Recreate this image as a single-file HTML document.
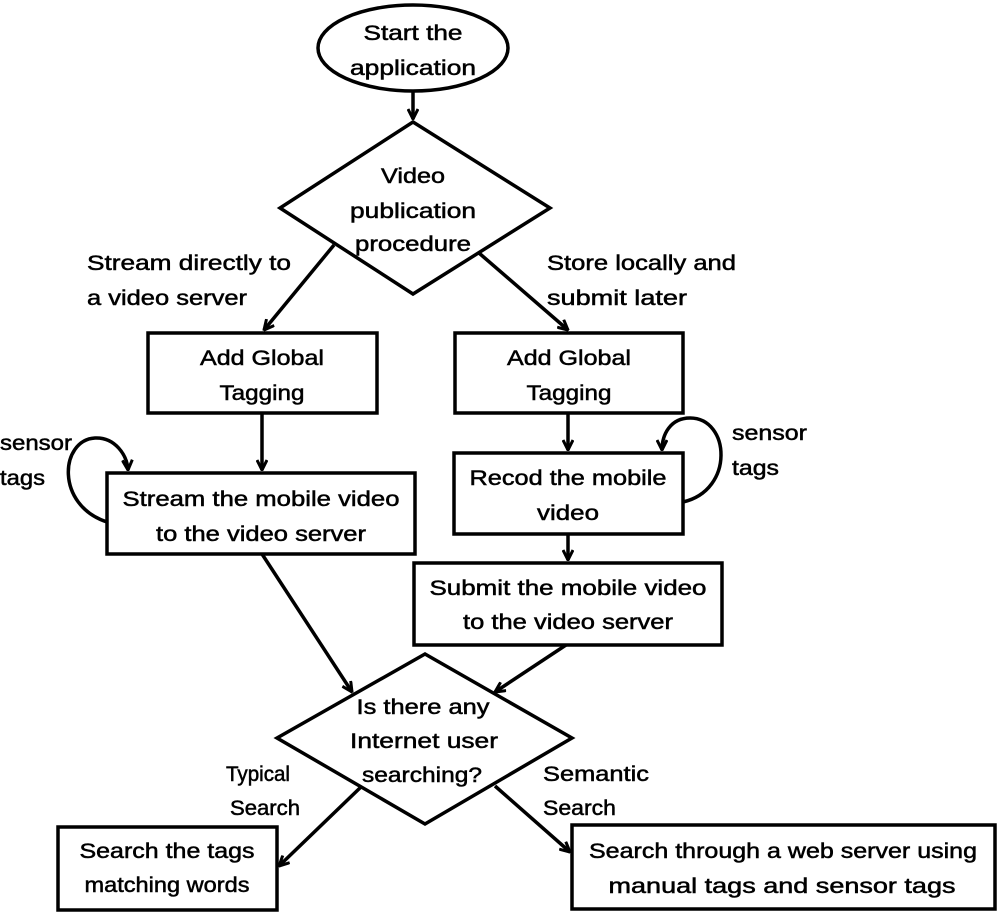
<!DOCTYPE html>
<html><head><style>html,body{margin:0;padding:0;background:#fff}svg{display:block}</style></head>
<body>
<svg width="1000" height="917" viewBox="0 0 1000 917" xmlns="http://www.w3.org/2000/svg">
<defs>
<marker id="a" viewBox="0 0 12 12" refX="11" refY="6" markerWidth="12" markerHeight="12" markerUnits="userSpaceOnUse" orient="auto">
<path d="M1,1 L11,6 L1,11" fill="none" stroke="#000" stroke-width="3"/>
</marker>
</defs>
<g fill="none" stroke="#000" stroke-width="3.5">
<ellipse cx="413" cy="48" rx="95" ry="43"/>
<polygon points="413,122 280,208 413,294 550,208"/>
<rect x="148" y="333" width="229" height="80"/>
<rect x="455" y="333" width="228" height="80"/>
<rect x="107" y="473" width="308" height="81"/>
<rect x="454" y="453" width="229" height="81"/>
<rect x="414" y="563" width="308" height="82"/>
<polygon points="425,654 277,738 425,824 572,738"/>
<rect x="58" y="827" width="219" height="83"/>
<rect x="572" y="825" width="423" height="84"/>
</g>
<g fill="none" stroke="#000" stroke-width="3.5" marker-end="url(#a)">
<line x1="413" y1="92" x2="413" y2="119"/>
<line x1="334" y1="245" x2="264" y2="330"/>
<line x1="479" y1="253" x2="568" y2="330"/>
<line x1="262" y1="413" x2="262" y2="470"/>
<line x1="568" y1="413" x2="568" y2="450"/>
<line x1="568" y1="534" x2="568" y2="560"/>
<line x1="262" y1="554" x2="352" y2="692"/>
<line x1="566" y1="645" x2="495" y2="692"/>
<line x1="362" y1="786" x2="279" y2="866"/>
<line x1="495" y1="786" x2="570" y2="852"/>
<path d="M107,522 C55,505 60,440 95,438 C115,437 127,455 128,470"/>
<path d="M683,502 C735,490 730,418 690,418 C670,418 662,435 662,450"/>
</g>
<g font-family="Liberation Sans, sans-serif" font-size="21" fill="#000" stroke="#000" stroke-width="0.5">
<text x="413" y="40" text-anchor="middle" textLength="99" lengthAdjust="spacingAndGlyphs">Start the</text>
<text x="413" y="75" text-anchor="middle" textLength="126" lengthAdjust="spacingAndGlyphs">application</text>
<text x="413" y="183" text-anchor="middle" textLength="64" lengthAdjust="spacingAndGlyphs">Video</text>
<text x="413" y="218" text-anchor="middle" textLength="126" lengthAdjust="spacingAndGlyphs">publication</text>
<text x="413" y="251" text-anchor="middle" textLength="116" lengthAdjust="spacingAndGlyphs">procedure</text>
<text x="87" y="270" textLength="204" lengthAdjust="spacingAndGlyphs">Stream directly to</text>
<text x="87" y="305" textLength="160" lengthAdjust="spacingAndGlyphs">a video server</text>
<text x="547" y="270" textLength="189" lengthAdjust="spacingAndGlyphs">Store locally and</text>
<text x="547" y="305" textLength="140" lengthAdjust="spacingAndGlyphs">submit later</text>
<text x="262" y="365" text-anchor="middle" textLength="124" lengthAdjust="spacingAndGlyphs">Add Global</text>
<text x="262" y="400" text-anchor="middle" textLength="85" lengthAdjust="spacingAndGlyphs">Tagging</text>
<text x="569" y="365" text-anchor="middle" textLength="124" lengthAdjust="spacingAndGlyphs">Add Global</text>
<text x="569" y="400" text-anchor="middle" textLength="85" lengthAdjust="spacingAndGlyphs">Tagging</text>
<text x="0" y="450" textLength="72" lengthAdjust="spacingAndGlyphs">sensor</text>
<text x="0" y="485" textLength="45" lengthAdjust="spacingAndGlyphs">tags</text>
<text x="732" y="440" textLength="75" lengthAdjust="spacingAndGlyphs">sensor</text>
<text x="732" y="475" textLength="47" lengthAdjust="spacingAndGlyphs">tags</text>
<text x="261" y="506" text-anchor="middle" textLength="277" lengthAdjust="spacingAndGlyphs">Stream the mobile video</text>
<text x="261" y="541" text-anchor="middle" textLength="210" lengthAdjust="spacingAndGlyphs">to the video server</text>
<text x="568" y="485" text-anchor="middle" textLength="197" lengthAdjust="spacingAndGlyphs">Recod the mobile</text>
<text x="568" y="520" text-anchor="middle" textLength="62" lengthAdjust="spacingAndGlyphs">video</text>
<text x="568" y="595" text-anchor="middle" textLength="277" lengthAdjust="spacingAndGlyphs">Submit the mobile video</text>
<text x="568" y="629" text-anchor="middle" textLength="210" lengthAdjust="spacingAndGlyphs">to the video server</text>
<text x="423" y="714" text-anchor="middle" textLength="133" lengthAdjust="spacingAndGlyphs">Is there any</text>
<text x="424" y="748" text-anchor="middle" textLength="148" lengthAdjust="spacingAndGlyphs">Internet user</text>
<text x="422" y="782" text-anchor="middle" textLength="120" lengthAdjust="spacingAndGlyphs">searching?</text>
<text x="226" y="781" textLength="64" lengthAdjust="spacingAndGlyphs">Typical</text>
<text x="230" y="815" textLength="70" lengthAdjust="spacingAndGlyphs">Search</text>
<text x="543" y="781" textLength="106" lengthAdjust="spacingAndGlyphs">Semantic</text>
<text x="543" y="815" textLength="73" lengthAdjust="spacingAndGlyphs">Search</text>
<text x="167" y="858" text-anchor="middle" textLength="175" lengthAdjust="spacingAndGlyphs">Search the tags</text>
<text x="167" y="892" text-anchor="middle" textLength="165" lengthAdjust="spacingAndGlyphs">matching words</text>
<text x="783" y="858" text-anchor="middle" textLength="388" lengthAdjust="spacingAndGlyphs">Search through a web server using</text>
<text x="782" y="893" text-anchor="middle" textLength="347" lengthAdjust="spacingAndGlyphs">manual tags and sensor tags</text>
</g>
</svg>
</body></html>
